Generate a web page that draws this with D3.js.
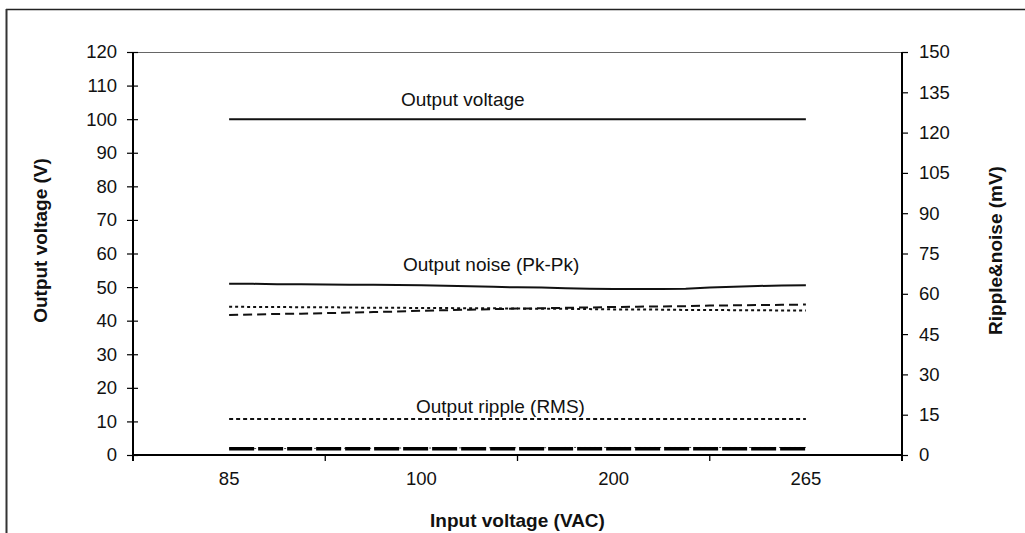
<!DOCTYPE html>
<html><head><meta charset="utf-8">
<script src="https://cdn.jsdelivr.net/npm/d3@7"></script>
<style>
html,body{margin:0;padding:0;background:#fff;}
svg{display:block;font-family:"Liberation Sans",Arial,sans-serif;}
</style></head>
<body><svg id="c" width="1025" height="533"></svg>
<script>
// ---- data ----
const categories = ["85", "100", "200", "265"];
const leftTickValues = [0, 10, 20, 30, 40, 50, 60, 70, 80, 90, 100, 110, 120];
const rightTickValues = [0, 15, 30, 45, 60, 75, 90, 105, 120, 135, 150];
// 25 measurement points spread from 85 VAC to 265 VAC
const outputVoltage = [100,100,100,100,100,100,100,100,100,100,100,100,100,100,100,100,100,100,100,100,100,100,100,100,100]; // V
const noisePkPk = [63.7,63.7,63.6,63.6,63.5,63.4,63.4,63.3,63.2,63.0,62.8,62.6,62.4,62.3,62.1,61.9,61.8,61.8,61.8,61.9,62.3,62.6,62.9,63.1,63.2]; // mV
const noiseDotted = [55.2,55.1,55.1,55.0,55.0,54.9,54.8,54.8,54.7,54.7,54.6,54.6,54.5,54.4,54.4,54.3,54.2,54.2,54.1,54.0,54.0,53.9,53.9,53.8,53.8]; // mV
const noiseDashed = [52.1,52.3,52.5,52.6,52.8,53.0,53.2,53.4,53.7,53.9,54.1,54.3,54.5,54.6,54.8,54.9,55.1,55.2,55.3,55.4,55.6,55.7,55.8,55.9,56.0]; // mV
const rippleDotted = [13.4,13.4,13.4,13.4,13.4,13.4,13.4,13.4,13.4,13.4,13.4,13.4,13.4,13.4,13.4,13.4,13.4,13.4,13.4,13.4,13.4,13.4,13.4,13.4,13.4]; // mV
const rippleDashed = [2.3,2.3,2.3,2.3,2.3,2.3,2.3,2.3,2.3,2.3,2.3,2.3,2.3,2.3,2.3,2.3,2.3,2.3,2.3,2.3,2.3,2.3,2.3,2.3,2.3]; // mV
const rippleThin = [2.4,2.4,2.4,2.4,2.5,2.5,2.5,2.6,2.6,2.6,2.7,2.7,2.7,2.7,2.8,2.8,2.8,2.8,2.8,2.8,2.8,2.8,2.8,2.8,2.8]; // mV
const annotations = [
  {text: "Output voltage", x: 0, y: 106, dx: 401},
  {text: "Output noise (Pk-Pk)", x: 0, y: 271, dx: 403},
  {text: "Output ripple (RMS)", x: 0, y: 413, dx: 416}
];

// ---- layout ----
const svg = d3.select("#c");
const L = 133, R = 902, T = 52, B = 455;
const FS = 18.5;

// outer frame
svg.append("line").attr("x1",6).attr("y1",9.5).attr("x2",1025).attr("y2",9.5).attr("stroke","#222").attr("stroke-width",1.3);
svg.append("line").attr("x1",6.5).attr("y1",9).attr("x2",6.5).attr("y2",533).attr("stroke","#333").attr("stroke-width",2);

const x = d3.scaleBand().domain(categories).range([L, R]).padding(0);
const xi = d3.scaleLinear().domain([0, outputVoltage.length - 1])
  .range([x(categories[0]) + x.bandwidth()/2, x(categories[categories.length-1]) + x.bandwidth()/2]);
const yL = d3.scaleLinear().domain([0, 120]).range([B, T]);
const yR = d3.scaleLinear().domain([0, 150]).range([B, T]);

// plot top border
svg.append("line").attr("x1",L).attr("x2",R).attr("y1",T+0.5).attr("y2",T+0.5).attr("stroke","#666").attr("stroke-width",1);

// left axis
const gl = svg.append("g").attr("transform",`translate(${L},0)`)
  .call(d3.axisLeft(yL).tickValues(leftTickValues).tickSizeInner(6).tickSizeOuter(0).tickPadding(10));
gl.selectAll(".tick line").attr("x2",-6).attr("x1",5).attr("stroke","#000").attr("stroke-width",1.2);
gl.select(".domain").remove();
gl.selectAll(".tick text").attr("font-size",FS).attr("font-family","Liberation Sans, Arial").attr("fill","#111");
svg.append("line").attr("x1",L).attr("x2",L).attr("y1",T).attr("y2",B+6).attr("stroke","#000").attr("stroke-width",2);

// right axis
const gr = svg.append("g").attr("transform",`translate(${R},0)`)
  .call(d3.axisRight(yR).tickValues(rightTickValues).tickSizeInner(6).tickSizeOuter(0).tickPadding(11));
gr.select(".domain").remove();
gr.selectAll(".tick line").attr("stroke","#000").attr("stroke-width",1.2);
gr.selectAll(".tick text").attr("font-size",FS).attr("font-family","Liberation Sans, Arial").attr("fill","#111");
svg.append("line").attr("x1",R).attr("x2",R).attr("y1",T).attr("y2",B+6).attr("stroke","#000").attr("stroke-width",2);

// bottom axis
const gb = svg.append("g").attr("transform",`translate(0,${B})`)
  .call(d3.axisBottom(x).tickSize(0).tickPadding(17));
gb.select(".domain").remove();
gb.selectAll(".tick text").attr("font-size",FS).attr("font-family","Liberation Sans, Arial").attr("fill","#111");
svg.append("line").attr("x1",L).attr("x2",R).attr("y1",B).attr("y2",B).attr("stroke","#000").attr("stroke-width",2);
// tick marks between categories
categories.slice(1).forEach(c => {
  svg.append("line").attr("x1",x(c)).attr("x2",x(c)).attr("y1",B).attr("y2",B+6).attr("stroke","#000").attr("stroke-width",1.3);
});

// axis titles
svg.append("text").attr("transform",`translate(47,${(T+B)/2 - 13}) rotate(-90)`)
  .attr("text-anchor","middle").attr("font-size",19).attr("font-weight","bold").attr("fill","#111").text("Output voltage (V)");
svg.append("text").attr("transform",`translate(1002,${(T+B)/2 - 3}) rotate(-90)`)
  .attr("text-anchor","middle").attr("font-size",19).attr("font-weight","bold").attr("fill","#111").text("Ripple&noise (mV)");
svg.append("text").attr("x",(L+R)/2).attr("y",527)
  .attr("text-anchor","middle").attr("font-size",19).attr("font-weight","bold").attr("fill","#111").text("Input voltage (VAC)");

// series
function draw(vals, yScale, dash, width, color){
  const line = d3.line().x((d,i)=>xi(i)).y(d=>yScale(d));
  svg.append("path").datum(vals).attr("d",line).attr("fill","none")
    .attr("stroke",color||"#000").attr("stroke-width",width)
    .attr("stroke-dasharray",dash||null);
}
draw(outputVoltage, yL, null, 2, "#111");
draw(noisePkPk, yR, null, 2, "#111");
draw(noiseDotted, yR, "3,3", 2, "#111");
draw(noiseDashed, yR, "9,5", 2, "#111");
draw(rippleDotted, yR, "4,3", 2.2, "#111");
draw(rippleThin, yR, "2,3", 1, "#444");
draw(rippleDashed, yR, "25,4", 3.5, "#000");

// annotations
annotations.forEach(a => {
  svg.append("text").attr("x", a.x + a.dx).attr("y", a.y).attr("font-size",19)
    .attr("fill","#111").text(a.text);
});
</script></body></html>
